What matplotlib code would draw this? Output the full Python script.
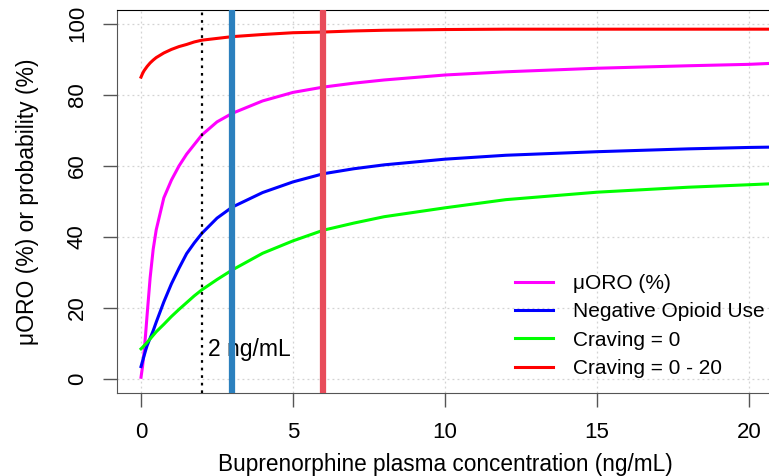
import matplotlib
matplotlib.use("Agg")
import matplotlib.pyplot as plt

# values
conc = [0, 0.05, 0.1, 0.15, 0.2, 0.3, 0.4, 0.5, 0.75, 1, 1.25, 1.5, 1.75, 2, 2.5, 3,
        4, 5, 6, 7, 8, 10, 12, 15, 18, 20, 20.8]
uoro = [0.5, 3.5, 7.5, 12.5, 18, 28.5, 36.5, 42, 51, 56, 60, 63.3, 66, 68.7, 72.4, 74.8,
        78.3, 80.7, 82.2, 83.3, 84.2, 85.6, 86.5, 87.5, 88.2, 88.6, 88.9]
neg_use = [3.5, 5, 6.5, 8, 9.4, 11.5, 13.6, 16, 21.7, 26.8, 31.2, 35.3, 38.3, 41, 45.3, 48.4,
           52.5, 55.5, 57.8, 59.2, 60.3, 61.9, 63, 64, 64.8, 65.2, 65.3]
crav0 = [8.5, 8.9, 9.4, 9.8, 10.3, 11.3, 12.3, 13.3, 15.4, 17.6, 19.6, 21.5, 23.4, 25.1, 28, 30.7,
         35.4, 38.9, 41.9, 43.9, 45.7, 48.2, 50.5, 52.6, 54, 54.7, 55]
crav20 = [85, 86, 86.8, 87.4, 88, 89, 89.8, 90.5, 91.8, 92.8, 93.6, 94.2, 94.9, 95.4, 95.9, 96.4,
          97, 97.5, 97.7, 98, 98.2, 98.4, 98.5, 98.5, 98.5, 98.5, 98.5]

series = [
    ("\u03bcORO (%)", uoro, "#FF00FF"),
    ("Negative Opioid Use", neg_use, "#0000FF"),
    ("Craving = 0", crav0, "#00FF00"),
    ("Craving = 0 - 20", crav20, "#FF0000"),
]

ref_line = 2
blue_line = 3
red_line = 6
xticks = [0, 5, 10, 15, 20]
yticks = [0, 20, 40, 60, 80, 100]

plt.rcParams["font.family"] = ["Liberation Sans", "DejaVu Sans"]

fig = plt.figure(figsize=(7.69, 4.76), dpi=100)
ax = fig.add_axes([117 / 769, 83 / 476, 656 / 769, 383 / 476])

ax.set_xlim(-0.79, 20.79)
ax.set_ylim(-3.94, 103.9)
ax.set_xticks(xticks)
ax.set_yticks(yticks)
ax.grid(True, color="#d3d3d3", linestyle=(0, (1.5, 2.5)), linewidth=0.9)
ax.set_axisbelow(True)

for label, vals, col in series:
    ax.plot(conc, vals, color=col, lw=2.2, label=label, zorder=3)

ax.axvline(ref_line, color="black", lw=1.6, linestyle=(0, (1.2, 2.2)), zorder=4)
ax.text(ref_line + 0.2, 8.2, "2 ng/mL", fontsize=16.5, va="center", ha="left", zorder=4)
ax.axvline(blue_line, color="#2B80BE", lw=4.5, zorder=5)
ax.axvline(red_line, color="#E84C5A", lw=4.5, zorder=5)

for side in ["left", "bottom", "right"]:
    ax.spines[side].set_color("#555555")
ax.spines["top"].set_color("black")
ax.tick_params(axis="both", labelsize=16, length=10, color="#555555", width=1)
ax.tick_params(axis="x", pad=11)
ax.tick_params(axis="y", pad=11)
for t in ax.get_yticklabels():
    t.set_rotation(90)
    t.set_va("center")

ax.set_xlabel("Buprenorphine plasma concentration (ng/mL)", fontsize=16.3, labelpad=7)
ax.set_ylabel("\u03bcORO (%) or probability (%)", fontsize=16.5, labelpad=20)

ax.legend(loc="upper left", bbox_to_anchor=((515 - 117) / 656, (393 - 274) / 383),
          frameon=False, fontsize=15, handlelength=1.83, handletextpad=0.96,
          labelspacing=0.45, borderpad=0, borderaxespad=0)

fig.savefig("out.png", dpi=100)
